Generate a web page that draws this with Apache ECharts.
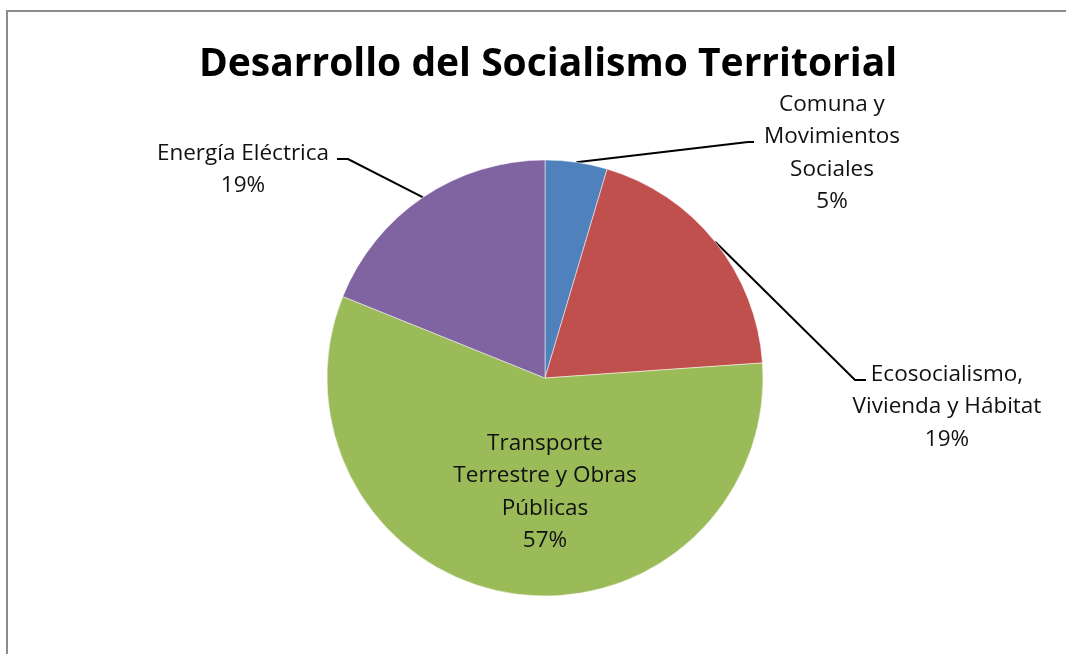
<!DOCTYPE html>
<html>
<head>
<meta charset="utf-8">
<script src="https://cdn.jsdelivr.net/npm/echarts@6/dist/echarts.min.js"></script>
<style>
  html, body { margin: 0; padding: 0; background: #fff; }
  #main { width: 1066px; height: 654px; }
</style>
</head>
<body>
<div id="main"></div>
<script>
// datos
var categorias = ['Comuna y Movimientos Sociales', 'Ecosocialismo, Vivienda y Hábitat', 'Transporte Terrestre y Obras Públicas', 'Energía Eléctrica'];
var etiquetas = ['Comuna y\nMovimientos\nSociales', 'Ecosocialismo,\nVivienda y Hábitat', 'Transporte\nTerrestre y Obras\nPúblicas', 'Energía Eléctrica'];
var valores = [4.6, 19.3, 57.2, 18.9];
var colores = ['#4F81BD', '#C0504D', '#9BBB59', '#8064A2'];

// donde va cada etiqueta (centro x, arriba y) y el quiebre de la línea guía
var posEtiquetas = [
  { x: 832, y: 88, bend: [748, 142], end: [754, 142] },
  { x: 947, y: 358, bend: [855, 380], end: [866, 380] },
  { x: 545, y: 427 },
  { x: 243, y: 137, bend: [348, 159], end: [337, 159] }
];

var chart = echarts.init(document.getElementById('main'), null, { renderer: 'canvas' });

var datos = [];
for (var i = 0; i < categorias.length; i++) {
  datos.push({
    name: categorias[i],
    value: valores[i],
    itemStyle: { color: colores[i] },
    label: { position: i === 2 ? 'inside' : 'outside' },
    labelLine: { show: i !== 2 }
  });
}

var option = {
  animation: false,
  backgroundColor: '#fff',
  title: {
    text: 'Desarrollo del Socialismo Territorial',
    left: 543,
    top: 40,
    textAlign: 'center',
    textStyle: {
      fontFamily: 'Open Sans',
      fontWeight: 'bold',
      fontSize: 39,
      color: '#000'
    }
  },
  graphic: [{
    type: 'rect',
    shape: { x: 7, y: 11, width: 1200, height: 800 },
    style: { fill: null, stroke: '#8c8c8c', lineWidth: 2 },
    silent: true
  }],
  series: [{
    type: 'pie',
    center: [545, 378],
    radius: 218,
    startAngle: 90,
    clockwise: true,
    percentPrecision: 0,
    avoidLabelOverlap: false,
    itemStyle: { borderColor: 'rgba(255,255,255,0.5)', borderWidth: 1 },
    label: {
      formatter: function (p) {
        return etiquetas[p.dataIndex] + '\n' + Math.round(p.percent) + '%';
      },
      fontFamily: 'Open Sans',
      fontSize: 22.5,
      lineHeight: 32.5,
      color: '#111',
      align: 'center'
    },
    labelLine: {
      lineStyle: { color: '#000', width: 2 }
    },
    labelLayout: function (params) {
      var p = posEtiquetas[params.dataIndex];
      var res = { x: p.x, y: p.y, align: 'center', verticalAlign: 'top' };
      if (p.bend && params.labelLinePoints) {
        res.labelLinePoints = [params.labelLinePoints[0], p.bend, p.end];
      }
      return res;
    },
    data: datos
  }]
};

chart.setOption(option);
</script>
</body>
</html>
